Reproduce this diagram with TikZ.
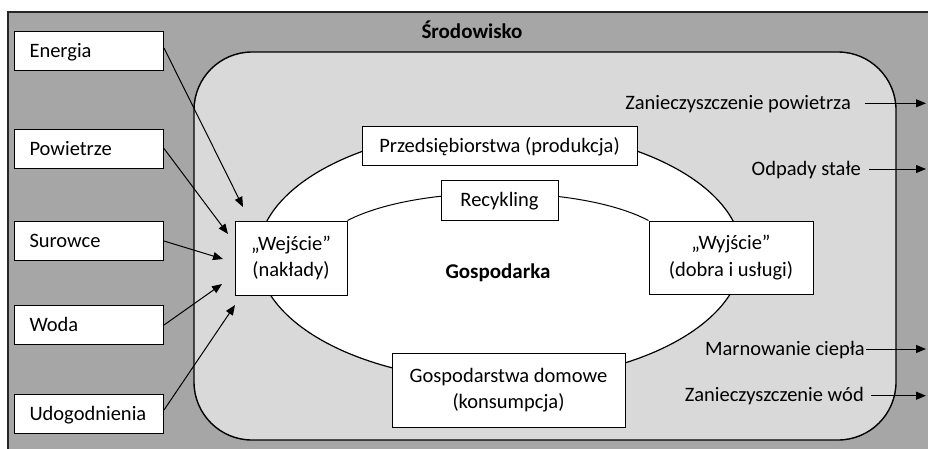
\documentclass[tikz,border=0pt]{standalone}
\usepackage{fontspec}
\setmainfont{Carlito}
\usetikzlibrary{arrows.meta}
\definecolor{envgray}{RGB}{166,166,166}
\definecolor{ecogray}{RGB}{217,217,217}
\begin{document}
\begin{tikzpicture}[x=1pt,y=-1pt,
  font=\fontsize{20.5}{26.5}\selectfont,
  box/.style={draw=black, line width=1pt, fill=white, inner sep=0pt},
  srcbox/.style={box, minimum width=149pt, minimum height=39pt,
    text width=119pt, align=left, text height=13pt, text depth=0pt},
  onebox/.style={box, minimum height=39pt, text height=13.5pt, text depth=0pt},
  twobox/.style={box, align=center},
  label/.style={inner sep=0pt, anchor=base east},
  title/.style={inner sep=0pt, anchor=base, font=\fontsize{21}{24}\selectfont\bfseries},
  flow/.style={line width=1pt, -{Triangle[length=10pt,width=8pt]}}]

\useasboundingbox (0,0) rectangle (928,448);
\clip (0,0) rectangle (928,448);

% environment and economy areas
\draw[fill=envgray, draw=black!85, line width=1.5pt] (8,12) rectangle (945,465);
\draw[fill=ecogray, draw=black, line width=1.4pt, rounded corners=58pt]
  (194,52) rectangle (896,440);
\draw[fill=white, draw=black, line width=1.2pt] (500,255) ellipse [x radius=242pt, y radius=126pt];

\node[title] (env) at (472,38) {Środowisko};
\node[title] (eco) at (498,278) {Gospodarka};

% resources on the left
\node[srcbox] (energia) at (89,50.5) {Energia};
\node[srcbox] (powietrze) at (89,148.5) {Powietrze};
\node[srcbox] (surowce) at (89,241) {Surowce};
\node[srcbox] (woda) at (89,325) {Woda};
\node[srcbox] (udog) at (89,414) {Udogodnienia};

% economy boxes
\node[twobox, minimum width=112pt, minimum height=74pt] (wejscie) at (291,258)
  {„Wejście”\\(nakłady)};
\node[twobox, minimum width=164pt, minimum height=73pt] (wyjscie) at (731,257.5)
  {„Wyjście”\\(dobra i usługi)};

% recycling loop
\draw[line width=1pt] (wejscie.north east) .. controls (418,184) and (579,184) .. (wyjscie.north west);

\node[onebox, minimum width=275pt] (firmy) at (499.5,145.5) {Przedsiębiorstwa (produkcja)};
\node[onebox, minimum width=117pt, minimum height=40pt] (recykling) at (499.5,200) {Recykling};
\node[twobox, minimum width=233pt, minimum height=74pt] (domy) at (508.5,390)
  {Gospodarstwa domowe\\(konsumpcja)};

% inflows
\coordinate (inE) at (243,207);
\coordinate (inP) at (228,234);
\coordinate (inS) at (223,259);
\coordinate (inW) at (222,284);
\coordinate (inU) at (235,305);
\draw[flow] ([yshift=2.5pt]energia.east) -- (inE);
\draw[flow] (powietrze.east) -- (inP);
\draw[flow] (surowce.east) -- (inS);
\draw[flow] (woda.east) -- (inW);
\draw[flow] ([yshift=4pt]udog.east) -- (inU);

% outflows
\node[label] (zp) at (851,109.3) {Zanieczyszczenie powietrza};
\node[label] (odp) at (861,175) {Odpady stałe};
\node[label] (cie) at (865,355) {Marnowanie ciepła};
\node[label] (zw) at (864,401.7) {Zanieczyszczenie wód};
\coordinate (outZP) at (926,103.3);
\coordinate (outO) at (926,169);
\coordinate (outC) at (926,349);
\coordinate (outZW) at (926,395.7);
\draw[flow] ([xshift=14pt,yshift=6pt]zp.base east) -- (outZP);
\draw[flow] ([xshift=8pt,yshift=6pt]odp.base east) -- (outO);
\draw[flow] ([xshift=1pt,yshift=6pt]cie.base east) -- (outC);
\draw[flow] ([xshift=7pt,yshift=6pt]zw.base east) -- (outZW);
\end{tikzpicture}
\end{document}
